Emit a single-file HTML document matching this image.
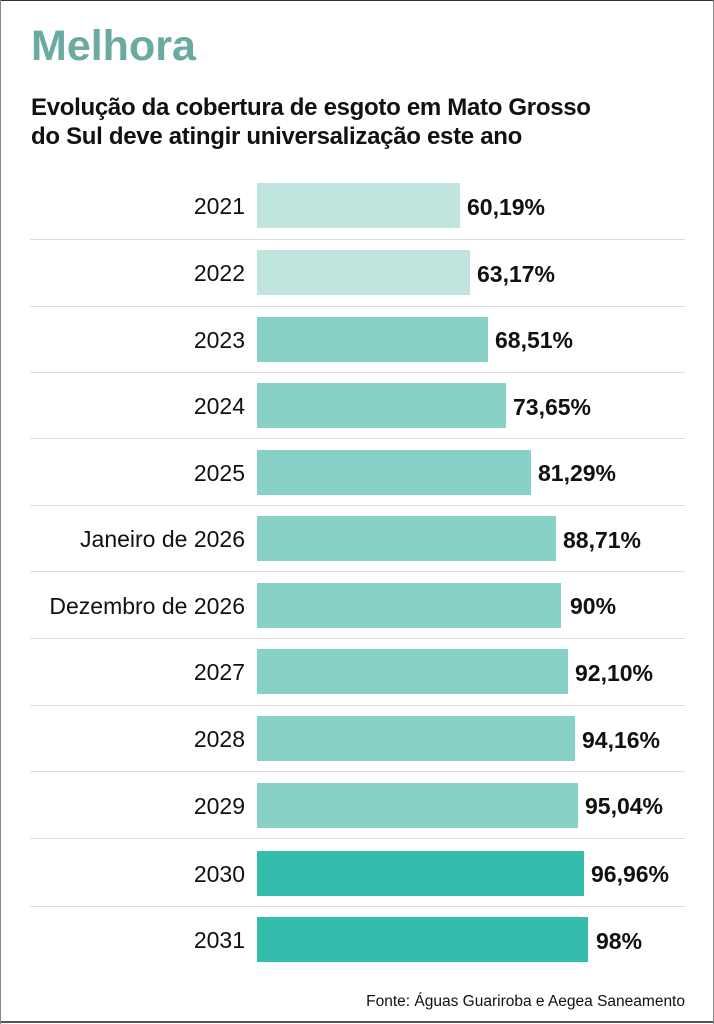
<!DOCTYPE html>
<html><head><meta charset="utf-8"><style>
body{margin:0;width:714px;height:1024px;background:#fff;position:relative;overflow:hidden;font-family:"Liberation Sans",sans-serif}
.t{position:absolute;left:31px;top:22px;font-size:43px;font-weight:bold;color:#6aaaa0;letter-spacing:0px}
.s{position:absolute;left:31px;top:93px;font-size:24px;font-weight:bold;color:#111;line-height:29px;letter-spacing:-0.3px}
.b{position:absolute;left:257px;height:45px}
.l{position:absolute;right:469px;font-size:23px;color:#111;text-align:right;white-space:nowrap}
.v{position:absolute;font-size:23px;font-weight:bold;color:#111}
.sep{position:absolute;left:30px;width:655px;height:1px;background:#ddd}
.f{position:absolute;right:29px;top:993px;font-size:15.5px;color:#111}
</style></head><body>
<div style="position:absolute;left:0;top:0;width:714px;height:1px;background:#333"></div>
<div style="position:absolute;left:0;top:1021px;width:714px;height:2px;background:#555"></div>
<div style="position:absolute;left:0;top:0;width:1px;height:1024px;background:#888"></div>
<div style="position:absolute;right:0;top:0;width:1px;height:1024px;background:#888"></div>
<div class="t">Melhora</div>
<div class="s">Evolução da cobertura de esgoto em Mato Grosso<br>do Sul deve atingir universalização este ano</div>
<div class="sep" style="top:239px"></div><div class="sep" style="top:306px"></div><div class="sep" style="top:372px"></div><div class="sep" style="top:438px"></div><div class="sep" style="top:505px"></div><div class="sep" style="top:571px"></div><div class="sep" style="top:638px"></div><div class="sep" style="top:705px"></div><div class="sep" style="top:771px"></div><div class="sep" style="top:838px"></div><div class="sep" style="top:906px"></div>

<div class="b" style="top:183px;width:203px;background:#c0e4de"></div><div class="l" style="top:193px">2021</div><div class="v" style="left:467px;top:194px">60,19%</div>
<div class="b" style="top:250px;width:213px;background:#c0e4de"></div><div class="l" style="top:260px">2022</div><div class="v" style="left:477px;top:261px">63,17%</div>
<div class="b" style="top:317px;width:231px;background:#88d1c6"></div><div class="l" style="top:327px">2023</div><div class="v" style="left:495px;top:327px">68,51%</div>
<div class="b" style="top:383px;width:249px;background:#88d1c6"></div><div class="l" style="top:393px">2024</div><div class="v" style="left:513px;top:394px">73,65%</div>
<div class="b" style="top:450px;width:274px;background:#88d1c6"></div><div class="l" style="top:460px">2025</div><div class="v" style="left:538px;top:460px">81,29%</div>
<div class="b" style="top:516px;width:299px;background:#88d1c6"></div><div class="l" style="top:526px">Janeiro de 2026</div><div class="v" style="left:563px;top:527px">88,71%</div>
<div class="b" style="top:583px;width:304px;background:#88d1c6"></div><div class="l" style="top:593px">Dezembro de 2026</div><div class="v" style="left:570px;top:593px">90%</div>
<div class="b" style="top:649px;width:311px;background:#88d1c6"></div><div class="l" style="top:659px">2027</div><div class="v" style="left:575px;top:660px">92,10%</div>
<div class="b" style="top:716px;width:318px;background:#88d1c6"></div><div class="l" style="top:726px">2028</div><div class="v" style="left:582px;top:727px">94,16%</div>
<div class="b" style="top:783px;width:321px;background:#88d1c6"></div><div class="l" style="top:793px">2029</div><div class="v" style="left:585px;top:793px">95,04%</div>
<div class="b" style="top:851px;width:327px;background:#34bcad"></div><div class="l" style="top:861px">2030</div><div class="v" style="left:591px;top:861px">96,96%</div>
<div class="b" style="top:917px;width:331px;background:#34bcad"></div><div class="l" style="top:927px">2031</div><div class="v" style="left:596px;top:928px">98%</div>
<div class="f">Fonte: Águas Guariroba e Aegea Saneamento</div>
</body></html>
